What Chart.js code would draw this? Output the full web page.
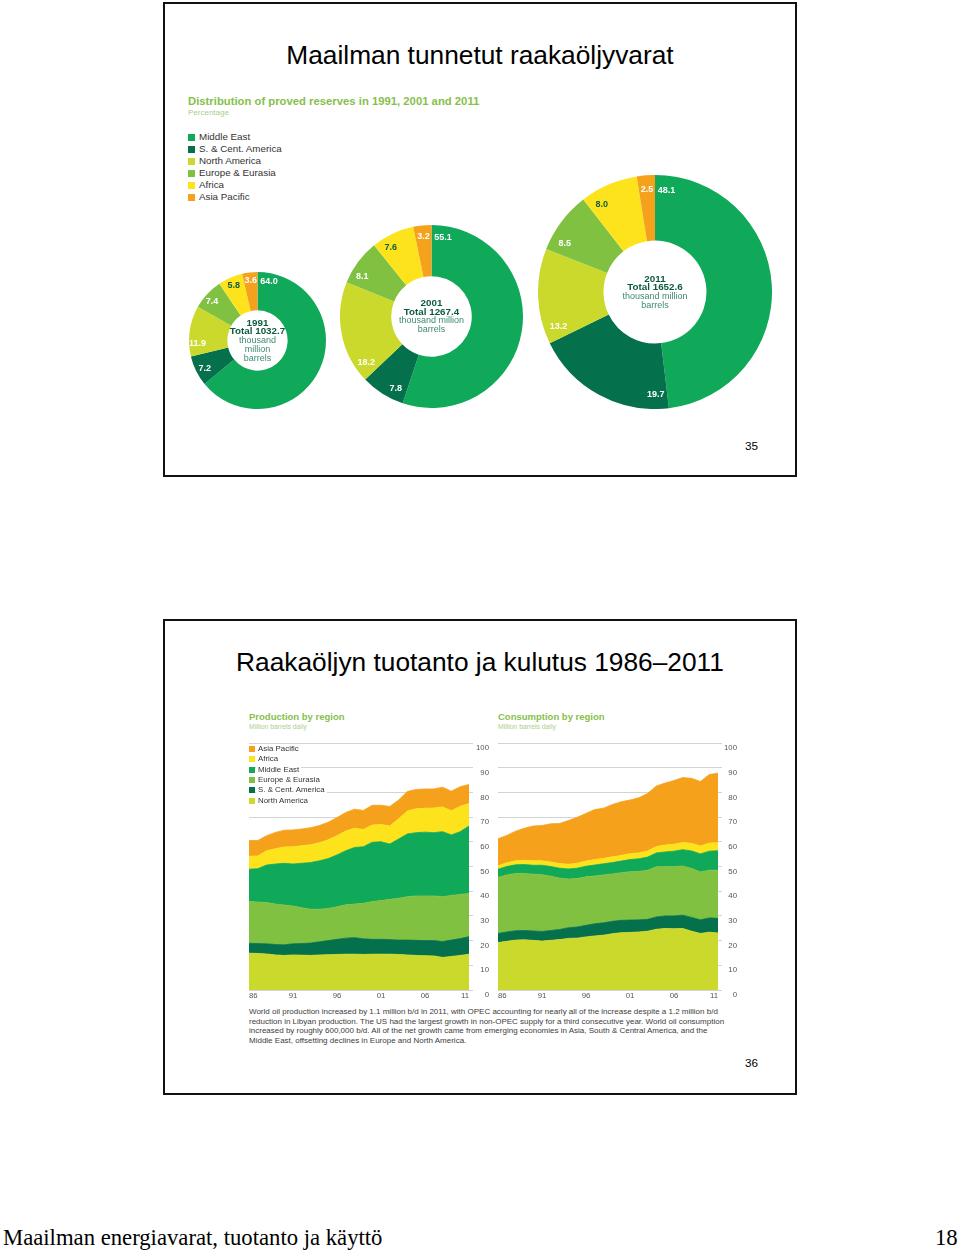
<!DOCTYPE html>
<html><head><meta charset="utf-8">
<script src="https://cdn.jsdelivr.net/npm/chart.js@4.4.0/dist/chart.umd.min.js"></script>
<style>
body{margin:0;width:960px;height:1251px;position:relative;background:#fff;font-family:"Liberation Sans",Arial,sans-serif;overflow:hidden}
.a{position:absolute;white-space:nowrap}
.slide{position:absolute;left:163px;width:634px;box-sizing:border-box;border:2px solid #111}
.ttl{position:absolute;left:0;width:960px;text-align:center;font-size:26.3px;line-height:30px;color:#000}
.pg{font-size:11.7px;line-height:14px;color:#000}
.hd{font-weight:bold;color:#86bf4c}
.sub{color:#a9cf8e}
.lg{color:#333}
.sq{position:absolute;display:inline-block}
canvas{position:absolute}
.lgb span.t{background:#fff;padding-right:2px}
</style></head><body>

<div class="slide" style="top:2px;height:475px"></div>
<div class="slide" style="top:619px;height:476px"></div>

<div class="ttl" style="top:40px">Maailman tunnetut raakaöljyvarat</div>
<div class="ttl" style="top:647px">Raakaöljyn tuotanto ja kulutus 1986–2011</div>
<div class="a pg" style="left:745px;top:439px">35</div>
<div class="a pg" style="left:745px;top:1056px">36</div>

<div class="a hd" style="left:188px;top:94px;font-size:11.3px;line-height:14px">Distribution of proved reserves in 1991, 2001 and 2011</div>
<div class="a sub" style="left:188px;top:108px;font-size:8px;line-height:10px">Percentage</div>
<div id="legTop"></div>

<canvas id="d1991" width="137" height="137" style="left:189px;top:272px;width:137px;height:137px"></canvas>
<canvas id="d2001" width="183" height="183" style="left:340px;top:225px;width:183px;height:183px"></canvas>
<canvas id="d2011" width="234" height="234" style="left:538px;top:175px;width:234px;height:234px"></canvas>

<div class="a hd" style="left:249px;top:711px;font-size:9.5px;line-height:12px">Production by region</div>
<div class="a sub" style="left:249px;top:723px;font-size:6.8px;line-height:8px">Million barrels daily</div>
<div class="a hd" style="left:498px;top:711px;font-size:9.5px;line-height:12px">Consumption by region</div>
<div class="a sub" style="left:498px;top:723px;font-size:6.8px;line-height:8px">Million barrels daily</div>

<canvas id="prod" width="250" height="270" style="left:244px;top:735px;width:250px;height:270px"></canvas>
<canvas id="cons" width="250" height="270" style="left:493px;top:735px;width:250px;height:270px"></canvas>
<div id="legBot" class="lgb"></div>

<div class="a" style="left:249px;top:1007px;font-size:8px;line-height:9.5px;color:#3d3d3d">World oil production increased by 1.1 million b/d in 2011, with OPEC accounting for nearly all of the increase despite a 1.2 million b/d<br>reduction in Libyan production. The US had the largest growth in non-OPEC supply for a third consecutive year. World oil consumption<br>increased by roughly 600,000 b/d. All of the net growth came from emerging economies in Asia, South &amp; Central America, and the<br>Middle East, offsetting declines in Europe and North America.</div>

<div class="a" style="left:3px;top:1224px;font-family:'Liberation Serif','Times New Roman',serif;font-size:22.7px;line-height:28px;color:#000">Maailman energiavarat, tuotanto ja käyttö</div>
<div class="a" style="left:935px;top:1224px;font-family:'Liberation Serif','Times New Roman',serif;font-size:22.7px;line-height:28px;color:#000">18</div>

<script>
// ---------- data ----------
const regions = ['Middle East','S. & Cent. America','North America','Europe & Eurasia','Africa','Asia Pacific'];
const reserveYears = ['1991','2001','2011'];
const reserveTotals = ['1032.7','1267.4','1652.6'];
const share1991 = [64.0, 7.2, 11.9, 7.4, 5.8, 3.6];
const share2001 = [55.1, 7.8, 18.2, 8.1, 7.6, 3.2];
const share2011 = [48.1, 19.7, 13.2, 8.5, 8.0, 2.5];

const years = ['1986','1987','1988','1989','1990','1991','1992','1993','1994','1995','1996','1997','1998','1999','2000','2001','2002','2003','2004','2005','2006','2007','2008','2009','2010','2011'];
const tickYears = ['86','91','96','01','06','11'];
const yTicks = [0,10,20,30,40,50,60,70,80,90,100];
// area series, bottom to top
const areaRegions = ['North America','S. & Cent. America','Europe & Eurasia','Middle East','Africa','Asia Pacific'];
const prodNorthAmerica = [14.9,14.8,14.6,14.2,14.0,14.2,14.1,14.0,14.2,14.3,14.4,14.5,14.5,14.4,14.5,14.5,14.5,14.4,14.2,14.0,13.9,13.8,13.2,13.6,14.0,14.5];
const prodSCAmerica   = [4.0,4.0,4.1,4.2,4.3,4.5,4.7,5.0,5.3,5.7,6.1,6.5,6.7,6.3,6.0,6.0,5.9,5.8,6.0,6.1,6.1,6.2,6.4,6.6,6.8,7.1];
const prodEurope      = [16.9,16.8,16.7,16.4,16.1,15.3,14.5,13.7,13.2,13.0,13.2,13.5,13.6,14.4,15.3,15.7,16.3,16.9,17.6,18.0,18.1,18.1,18.2,18.1,17.9,17.5];
const prodMiddleEast  = [13.1,13.5,15.2,16.2,16.9,17.0,18.0,18.9,19.6,20.2,21.0,21.9,22.9,22.9,24.0,23.8,22.4,24.0,25.4,25.6,25.8,25.6,26.3,24.5,25.4,27.3];
const prodAfrica      = [5.3,5.2,5.8,6.2,6.6,7.0,7.1,7.2,7.3,7.6,7.8,8.0,7.8,7.0,7.0,7.0,7.3,8.2,9.3,9.7,9.7,10.0,10.0,9.8,10.3,9.1];
const prodAsiaPacific = [6.3,6.2,6.1,6.6,6.8,6.8,6.8,6.9,7.0,7.1,7.3,7.5,7.7,7.7,8.0,7.8,7.9,7.6,7.9,7.8,7.8,7.7,8.0,7.9,7.9,7.7];

const consNorthAmerica = [19.2,19.7,20.2,20.3,20.1,19.8,20.1,20.4,20.9,21.0,21.5,21.9,22.2,22.8,23.2,23.3,23.5,23.8,24.6,24.9,24.8,24.9,23.8,22.9,23.4,23.1];
const consSCAmerica   = [3.7,3.8,3.8,3.8,3.8,3.9,4.0,4.1,4.3,4.5,4.7,4.9,5.0,5.0,5.0,5.0,4.9,4.8,5.0,5.1,5.2,5.4,5.6,5.5,5.8,5.9];
const consEurope      = [22.7,23.1,23.2,23.1,23.0,23.0,22.0,20.8,19.7,19.6,19.6,19.4,19.4,19.2,19.3,19.6,19.6,19.9,20.3,20.0,20.0,19.9,19.8,19.4,19.3,19.5];
const consMiddleEast  = [3.3,3.4,3.5,3.6,3.6,3.8,3.9,4.0,4.1,4.2,4.3,4.4,4.5,4.6,4.7,4.9,5.1,5.3,5.6,5.9,6.2,6.6,7.1,7.3,7.7,7.9];
const consAfrica      = [1.4,1.5,1.6,1.7,1.8,1.8,1.8,1.9,1.9,2.0,2.1,2.2,2.2,2.3,2.3,2.4,2.4,2.5,2.6,2.8,2.8,2.9,3.1,3.2,3.3,3.2];
const consAsiaPacific = [10.9,11.1,12.0,13.0,14.1,14.3,15.5,16.2,17.7,18.6,19.3,20.3,20.3,21.2,21.7,21.7,22.3,23.3,24.5,25.1,25.8,26.3,26.3,26.1,27.7,28.2];

// ---------- styles ----------
const colorOf = {
  'Middle East':'#10a859',
  'S. & Cent. America':'#05704c',
  'North America':'#cbd92c',
  'Europe & Eurasia':'#80c142',
  'Africa':'#fde31c',
  'Asia Pacific':'#f6a11c'
};
const FONT = '"Liberation Sans", Arial, sans-serif';

// legends
(function(){
  const box = document.getElementById('legTop');
  regions.forEach((r,i)=>{
    const y = 137 + i*12;
    box.insertAdjacentHTML('beforeend',
      `<div class="sq" style="left:188px;top:${y-3.5}px;width:7px;height:7px;background:${colorOf[r]}"></div>`+
      `<div class="a lg" style="left:199px;top:${y-6}px;font-size:9.8px;line-height:12px">${r.replace('&','&amp;')}</div>`);
  });
  const lb = document.getElementById('legBot');
  const order = areaRegions.slice().reverse();
  order.forEach((r,i)=>{
    const y = 749 + i*10.3;
    lb.insertAdjacentHTML('beforeend',
      `<div class="sq" style="left:249px;top:${y-3}px;width:6px;height:6px;background:${colorOf[r]};z-index:3"></div>`+
      `<div class="a lg" style="left:256px;top:${y-5}px;font-size:7.9px;line-height:10px;z-index:3"><span class="t" style="padding-left:2px">${r.replace('&','&amp;')}</span></div>`);
  });
})();

// ---------- doughnuts ----------
const donutText = {
  id:'donutText',
  afterDatasetsDraw(chart, args, opts){
    const ctx = chart.ctx;
    const meta = chart.getDatasetMeta(0);
    const vals = chart.data.datasets[0].data;
    ctx.save();
    ctx.textAlign='center'; ctx.textBaseline='middle';
    let cx=0, cy=0;
    meta.data.forEach((arc,i)=>{
      const p = arc.getProps(['x','y','startAngle','endAngle','outerRadius']);
      cx=p.x; cy=p.y;
      const r = p.outerRadius*0.875;
      const half = (p.endAngle-p.startAngle)/2;
      const a = p.startAngle + Math.min(11.5/r, half);
      ctx.font = 'bold 9px '+FONT;
      ctx.fillStyle = chart.data.labels[i]==='Africa' ? '#135c3b' : '#ffffff';
      ctx.fillText(vals[i].toFixed(1), p.x + r*Math.cos(a), p.y + r*Math.sin(a));
    });
    const lines = opts.lines;
    const lh = 8.8;
    const y0 = cy - (lines.length-1)*lh/2;
    lines.forEach((t,i)=>{
      ctx.font = (i<2 ? 'bold 9.8px ' : '9px ')+FONT;
      ctx.fillStyle = i<2 ? '#0d5a3c' : '#3f8a70';
      ctx.fillText(t, cx, y0 + i*lh);
    });
    ctx.restore();
  }
};
function donut(id, shares, idx, extraLines){
  new Chart(document.getElementById(id), {
    type:'doughnut',
    data:{labels:regions, datasets:[{data:shares, backgroundColor:regions.map(r=>colorOf[r]), borderWidth:0}]},
    options:{responsive:false, animation:false, cutout:'44%', layout:{padding:0},
      plugins:{legend:{display:false}, tooltip:{enabled:false},
        donutText:{lines:[reserveYears[idx], 'Total '+reserveTotals[idx]].concat(extraLines)}}},
    plugins:[donutText]
  });
}
donut('d1991', share1991, 0, ['thousand','million','barrels']);
donut('d2001', share2001, 1, ['thousand million','barrels']);
donut('d2011', share2011, 2, ['thousand million','barrels']);

// ---------- stacked areas ----------
function area(id, series, padRight, axisW){
  new Chart(document.getElementById(id), {
    type:'line',
    data:{labels:years, datasets:areaRegions.map((r,i)=>({
      label:r, data:series[i], backgroundColor:colorOf[r], borderColor:colorOf[r], borderWidth:0.8,
      pointRadius:0, tension:0, fill: i===0 ? 'origin' : '-1'}))},
    options:{responsive:false, animation:false,
      plugins:{legend:{display:false}, tooltip:{enabled:false}},
      layout:{padding:{left:5, top:8, right:padRight, bottom:3}},
      scales:{
        x:{grid:{display:false, drawTicks:false}, border:{display:false},
           ticks:{autoSkip:false, maxRotation:0, align:'inner', padding:1, color:'#555', font:{size:7.8, family:FONT},
             callback:(v,i)=> i%5===0 ? tickYears[i/5] : ''},
           afterFit:s=>{s.height=12; s.paddingLeft=0; s.paddingRight=0;}},
        y:{position:'right', stacked:true, min:yTicks[0], max:yTicks[yTicks.length-1], border:{display:false},
           grid:{color:'#d3d3d3', lineWidth:1, tickLength:4},
           afterBuildTicks:s=>{s.ticks = yTicks.map(v=>({value:v}));},
           ticks:{padding:3, crossAlign:'far', labelOffset:5, color:'#555', font:{size:7.8, family:FONT}},
           afterFit:s=>{s.width=axisW; s.paddingTop=0; s.paddingBottom=0;}}
      }}
  });
}
area('prod', [prodNorthAmerica, prodSCAmerica, prodEurope, prodMiddleEast, prodAfrica, prodAsiaPacific], 5, 20);
area('cons', [consNorthAmerica, consSCAmerica, consEurope, consMiddleEast, consAfrica, consAsiaPacific], 6, 19);
</script>
</body></html>
